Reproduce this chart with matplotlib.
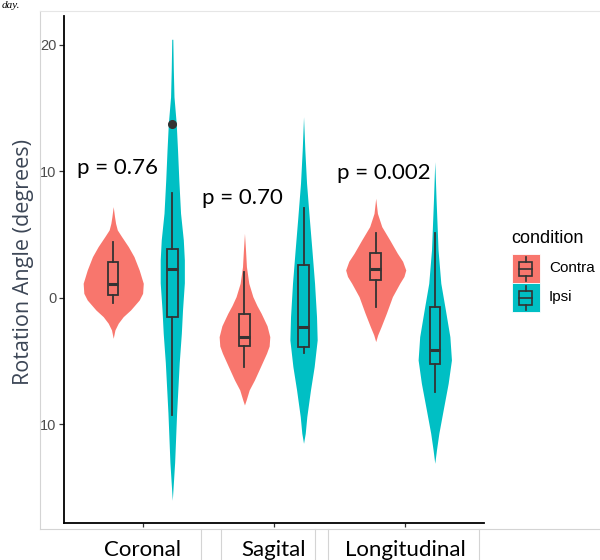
import matplotlib
matplotlib.use("Agg")
import matplotlib.pyplot as plt
from matplotlib.patches import Rectangle
from matplotlib.lines import Line2D

# ---------------- data ----------------
planes = ["Coronal", "Sagital", "Longitudinal"]
conditions = ["Contra", "Ipsi"]
colors = {"Contra": "#F8766D", "Ipsi": "#00BFC4"}
p_labels = ["p = 0.76", "p = 0.70", "p = 0.002"]
p_label_x = [0.805, 1.756, 2.84]
p_label_y = [10.3, 7.9, 9.9]

y_ticks = [20, 10, 0, -10]
y_tick_labels = ["20", "10", "0", "10"]

# violin outlines: value (degrees) and half width (x units)
coronal_contra_y = [7.22, 6.43, 5.9, 5.38, 4.85, 4.06, 3.27, 2.21, 1.16, 0.37, -0.16, -0.95, -1.48, -2.0, -2.53, -3.19]
coronal_contra_w = [0.0, 0.010, 0.018, 0.031, 0.064, 0.115, 0.158, 0.198, 0.229, 0.224, 0.198, 0.132, 0.076, 0.038, 0.013, 0.0]
coronal_ipsi_y = [20.45, 18.0, 15.9, 13.8, 11.7, 9.3, 6.7, 4.6, 3.0, 1.2, -0.95, -2.8, -5.1, -9.1, -13.0, -16.0]
coronal_ipsi_w = [0.004, 0.008, 0.013, 0.030, 0.040, 0.050, 0.063, 0.084, 0.092, 0.092, 0.078, 0.069, 0.053, 0.033, 0.018, 0.0]
sagital_contra_y = [5.11, 3.79, 2.47, 1.16, 0.1, -0.6, -1.21, -2.2, -3.06, -3.8, -4.37, -5.43, -6.48, -7.27, -8.06, -8.46]
sagital_contra_w = [0.0, 0.008, 0.015, 0.033, 0.064, 0.095, 0.127, 0.172, 0.193, 0.188, 0.168, 0.122, 0.076, 0.036, 0.013, 0.0]
sagital_ipsi_y = [14.33, 11.7, 9.07, 6.43, 3.79, 1.16, -1.48, -3.32, -5.43, -7.27, -9.38, -10.7, -11.49]
sagital_ipsi_w = [0.0, 0.010, 0.023, 0.043, 0.064, 0.084, 0.099, 0.104, 0.081, 0.053, 0.025, 0.013, 0.0]
longitudinal_contra_y = [7.88, 6.69, 5.64, 4.58, 3.53, 2.9, 2.21, 1.7, 1.16, 0.1, -1.21, -2.27, -2.92, -3.45]
longitudinal_contra_w = [0.0, 0.013, 0.046, 0.107, 0.165, 0.205, 0.229, 0.215, 0.183, 0.127, 0.081, 0.041, 0.015, 0.0]
longitudinal_ipsi_y = [10.78, 7.75, 3.79, 1.16, -0.95, -3.06, -4.9, -6.75, -8.85, -10.7, -12.0, -13.07]
longitudinal_ipsi_w = [0.0, 0.010, 0.025, 0.046, 0.081, 0.115, 0.127, 0.102, 0.064, 0.031, 0.013, 0.0]

violins = {
    ("Coronal", "Contra"): (coronal_contra_y, coronal_contra_w),
    ("Coronal", "Ipsi"): (coronal_ipsi_y, coronal_ipsi_w),
    ("Sagital", "Contra"): (sagital_contra_y, sagital_contra_w),
    ("Sagital", "Ipsi"): (sagital_ipsi_y, sagital_ipsi_w),
    ("Longitudinal", "Contra"): (longitudinal_contra_y, longitudinal_contra_w),
    ("Longitudinal", "Ipsi"): (longitudinal_ipsi_y, longitudinal_ipsi_w),
}

# box statistics, order: Coronal Contra, Coronal Ipsi, Sagital Contra, Sagital Ipsi, Longitudinal Contra, Longitudinal Ipsi
box_whislo = [-0.42, -9.25, -5.43, -4.37, -0.69, -7.41]
box_q1 = [0.24, -1.48, -3.77, -3.9, 1.42, -5.22]
box_med = [1.1, 2.27, -3.06, -2.27, 2.29, -4.11]
box_q3 = [2.82, 3.87, -1.29, 2.63, 3.56, -0.74]
box_whishi = [4.45, 8.27, 2.08, 7.09, 5.16, 5.11]
box_fliers = [[], [13.75], [], [], [], []]

# ---------------- figure ----------------
W, H = 600, 560
fig = plt.figure(figsize=(W / 100, H / 100), dpi=100)
ax = fig.add_axes([64 / W, 37 / H, 420 / W, 507 / H])
ax.set_xlim(0.4, 3.6)
ax.set_ylim(-17.79, 22.29)

dodge = 0.225
dark = "#333333"
k = 0
for i, plane in enumerate(planes):
    for j, cond in enumerate(conditions):
        x0 = (i + 1) + (-dodge if j == 0 else dodge)
        yv, wv = violins[(plane, cond)]
        ax.fill_betweenx(yv, [x0 - w for w in wv], [x0 + w for w in wv],
                         color=colors[cond], linewidth=0, zorder=2)
        stats = [dict(whislo=box_whislo[k], q1=box_q1[k], med=box_med[k],
                      q3=box_q3[k], whishi=box_whishi[k], fliers=box_fliers[k])]
        ax.bxp(stats, positions=[x0], widths=0.08, patch_artist=True,
               showcaps=False, manage_ticks=False,
               boxprops=dict(facecolor=colors[cond], edgecolor=dark, linewidth=1.3),
               medianprops=dict(color=dark, linewidth=2.2, solid_capstyle="butt"),
               whiskerprops=dict(color=dark, linewidth=1.3),
               flierprops=dict(marker="o", markersize=5.5, markerfacecolor=dark,
                               markeredgecolor=dark),
               zorder=3)
        k += 1

for lab, xx, yy in zip(p_labels, p_label_x, p_label_y):
    ax.text(xx, yy, lab, ha="center", va="center", fontsize=16,
            family=["Lato", "DejaVu Sans"], color="black", zorder=5)

for s in ["top", "right"]:
    ax.spines[s].set_visible(False)
for s in ["left", "bottom"]:
    ax.spines[s].set_color("black")
    ax.spines[s].set_linewidth(1.3)

ax.set_yticks(y_ticks)
ax.set_yticklabels(y_tick_labels, family=["Liberation Sans", "DejaVu Sans"],
                   fontsize=10.5, color="#4d4d4d")
ax.tick_params(axis="y", length=3.5, width=0.9, color="#333333", pad=2)
ax.set_xticks([1, 2, 3])
ax.set_xticklabels(planes, family=["Lato", "DejaVu Sans"], fontsize=16, color="black")
ax.tick_params(axis="x", length=3, width=0.9, color="#333333", pad=9)
ax.set_facecolor("none")

fig.text(24 / W, 1 - 262 / H, "Rotation Angle (degrees)", rotation=90,
         ha="center", va="center", fontsize=15.5, color="#3c4656",
         family=["Open Sans", "DejaVu Sans"])

# overlay in pixel coordinates: screenshot frame lines, legend, caption fragment
ov = fig.add_axes([0, 0, 1, 1])
ov.set_xlim(0, W)
ov.set_ylim(H, 0)
ov.axis("off")
ov.set_facecolor("none")
g = "#d4d4d4"
ov.add_line(Line2D([40, 40], [10.5, 528.5], color=g, lw=0.8))
ov.add_line(Line2D([40, 600], [10.5, 10.5], color="#e6e6e6", lw=0.8))
ov.add_line(Line2D([40, 600], [528.5, 528.5], color=g, lw=0.8))
for xv in [201, 221, 315, 328, 479]:
    ov.add_line(Line2D([xv, xv], [528.5, 560], color=g, lw=0.8))
ov.text(2, 7.5, "day.", ha="left", va="baseline", fontsize=8, style="italic",
        family=["Liberation Serif", "DejaVu Serif"], color="black")

# legend
ov.text(511, 238.5, "condition", ha="left", va="center", fontsize=13,
        family=["Liberation Sans", "DejaVu Sans"], color="black")
for n, cond in enumerate(conditions):
    top = 254 + n * 29
    ov.add_patch(Rectangle((511.5, top), 28.5, 28.7, facecolor=colors[cond],
                           edgecolor="white", linewidth=0.6))
    cx = 525.7
    ov.add_patch(Rectangle((cx - 6.5, top + 7.5), 13, 14.3, facecolor="none",
                           edgecolor=dark, linewidth=1.2))
    ov.add_line(Line2D([cx - 6.5, cx + 6.5], [top + 14.6, top + 14.6], color=dark, lw=1.2))
    ov.add_line(Line2D([cx, cx], [top + 2.5, top + 7.5], color=dark, lw=1.2))
    ov.add_line(Line2D([cx, cx], [top + 21.8, top + 26.5], color=dark, lw=1.2))
    ov.text(549, top + 14.5, cond, ha="left", va="center", fontsize=11,
            family=["Liberation Sans", "DejaVu Sans"], color="black")

fig.savefig("out.png", dpi=100)
